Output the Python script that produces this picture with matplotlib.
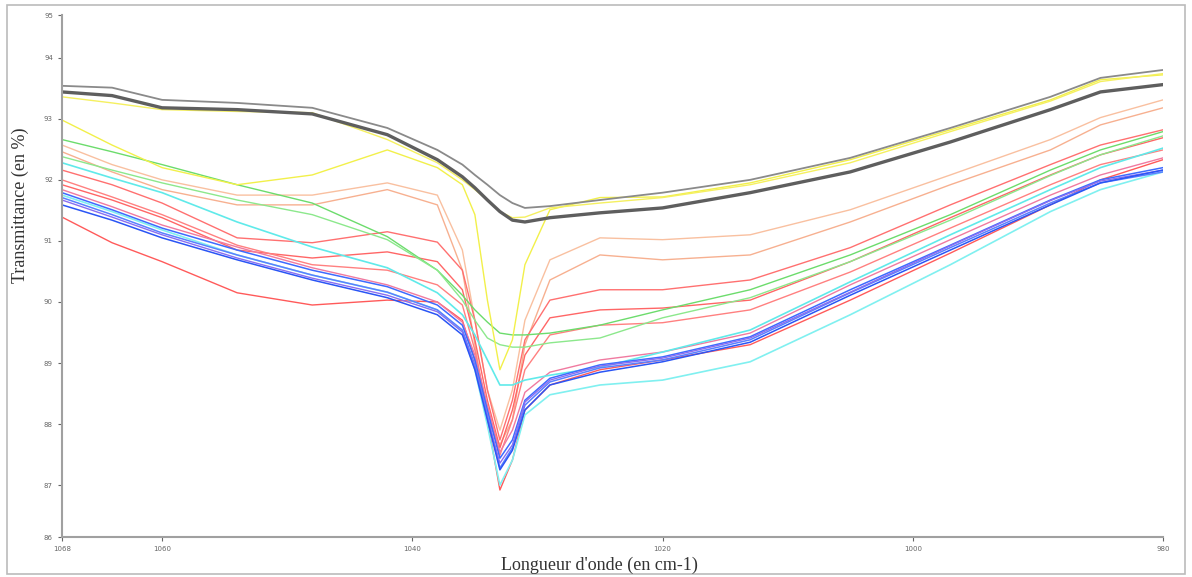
import numpy as np
import matplotlib
matplotlib.use('Agg')
import matplotlib.pyplot as plt
from matplotlib.patches import Rectangle

# wavenumbers (cm-1) where the spectra were read
wn = [1068, 1064, 1060, 1054, 1048, 1042, 1038, 1036, 1035, 1034, 1033,
      1032, 1031, 1029, 1025, 1020, 1013, 1005, 997, 989, 985, 980]

# transmittance (%) per spectrum
gray_a = [93.54, 93.51, 93.31, 93.26, 93.18, 92.85, 92.49, 92.25, 92.08, 91.92, 91.75,
          91.62, 91.54, 91.57, 91.67, 91.79, 92.00, 92.36, 92.85, 93.36, 93.67, 93.80]
gray_b = [93.44, 93.38, 93.18, 93.15, 93.08, 92.74, 92.33, 92.05, 91.87, 91.67, 91.48,
          91.34, 91.31, 91.38, 91.46, 91.54, 91.79, 92.13, 92.62, 93.15, 93.44, 93.56]
yellow_a = [93.36, 93.26, 93.15, 93.12, 93.10, 92.66, 92.28, 92.00, 91.84, 91.67, 91.48,
            91.38, 91.39, 91.54, 91.62, 91.71, 91.92, 92.28, 92.79, 93.29, 93.61, 93.74]
yellow_b = [92.98, 92.57, 92.20, 91.92, 92.08, 92.49, 92.20, 91.92, 91.43, 90.03, 88.89,
            89.38, 90.61, 91.51, 91.71, 91.72, 91.95, 92.33, 92.82, 93.31, 93.64, 93.72]
salmon_a = [92.57, 92.25, 92.00, 91.75, 91.75, 91.95, 91.75, 90.85, 89.70, 88.56, 87.90,
            88.56, 89.70, 90.69, 91.05, 91.02, 91.10, 91.51, 92.08, 92.66, 93.02, 93.31]
salmon_b = [92.46, 92.13, 91.84, 91.59, 91.59, 91.84, 91.59, 90.52, 89.30, 88.07, 87.66,
            88.07, 89.30, 90.36, 90.77, 90.69, 90.77, 91.31, 91.92, 92.49, 92.90, 93.18]
green_a = [92.66, 92.46, 92.25, 91.92, 91.62, 91.07, 90.52, 90.11, 89.87, 89.67, 89.49,
           89.46, 89.46, 89.49, 89.62, 89.87, 90.20, 90.77, 91.43, 92.16, 92.49, 92.79]
green_b = [92.38, 92.16, 91.95, 91.67, 91.43, 91.02, 90.52, 90.03, 89.70, 89.41, 89.30,
           89.26, 89.26, 89.33, 89.41, 89.74, 90.07, 90.66, 91.34, 92.07, 92.41, 92.72]
red_1 = [92.16, 91.92, 91.62, 91.05, 90.97, 91.15, 90.98, 90.52, 89.70, 88.56, 87.74,
         88.39, 89.38, 90.03, 90.20, 90.20, 90.36, 90.89, 91.59, 92.25, 92.57, 92.82]
red_2 = [91.92, 91.67, 91.38, 90.85, 90.72, 90.82, 90.66, 90.20, 89.38, 88.39, 87.61,
         88.23, 89.13, 89.74, 89.87, 89.90, 90.03, 90.66, 91.38, 92.08, 92.41, 92.69]
red_3 = [92.00, 91.72, 91.43, 90.93, 90.61, 90.52, 90.28, 89.95, 89.21, 88.23, 87.49,
         88.07, 88.89, 89.46, 89.62, 89.66, 89.87, 90.49, 91.21, 91.92, 92.25, 92.49]
red_4 = [91.39, 90.97, 90.66, 90.15, 89.95, 90.03, 90.00, 89.70, 89.05, 88.07, 86.92,
         87.41, 88.23, 88.64, 88.89, 89.05, 89.30, 90.03, 90.80, 91.59, 92.00, 92.33]
pink = [91.84, 91.56, 91.26, 90.90, 90.56, 90.28, 90.00, 89.67, 89.13, 88.31, 87.54,
        87.90, 88.52, 88.85, 89.05, 89.18, 89.49, 90.28, 91.02, 91.75, 92.08, 92.36]
cyan_a = [92.28, 92.03, 91.79, 91.31, 90.90, 90.56, 90.15, 89.79, 89.46, 89.05, 88.64,
          88.64, 88.72, 88.80, 88.93, 89.18, 89.54, 90.33, 91.10, 91.84, 92.20, 92.52]
cyan_b = [91.75, 91.48, 91.18, 90.77, 90.44, 90.16, 89.87, 89.51, 88.89, 87.98, 87.00,
          87.41, 88.15, 88.48, 88.64, 88.72, 89.02, 89.79, 90.61, 91.48, 91.84, 92.13]
blue_a = [91.79, 91.51, 91.21, 90.85, 90.52, 90.25, 89.95, 89.62, 89.05, 88.23, 87.44,
          87.74, 88.39, 88.75, 88.97, 89.10, 89.43, 90.20, 90.93, 91.67, 92.00, 92.20]
blue_b = [91.71, 91.43, 91.13, 90.77, 90.44, 90.16, 89.87, 89.54, 88.97, 88.15, 87.28,
          87.61, 88.31, 88.69, 88.92, 89.05, 89.38, 90.15, 90.89, 91.62, 91.95, 92.13]
purple = [91.67, 91.39, 91.10, 90.72, 90.39, 90.11, 89.84, 89.51, 88.92, 88.10, 87.36,
          87.66, 88.36, 88.72, 88.95, 89.08, 89.41, 90.16, 90.92, 91.66, 91.98, 92.16]
blue_c = [91.59, 91.34, 91.05, 90.69, 90.36, 90.07, 89.79, 89.46, 88.89, 88.07, 87.25,
          87.57, 88.23, 88.64, 88.85, 89.02, 89.34, 90.11, 90.85, 91.59, 91.95, 92.16]

xticks = [1068, 1060, 1040, 1020, 1000, 980]
yticks = [86.15, 87, 88, 89, 90, 91, 92, 93, 94, 94.7]
ytick_labels = ['86', '87', '88', '89', '90', '91', '92', '93', '94', '95']

fig = plt.figure(figsize=(11.92, 5.77), dpi=100)
ax = fig.add_axes([0.052, 0.0693, 0.9237, 0.9047])

# (series, colour, width) - light curves first, dark on top
curves = [
    (salmon_a, '#f9c0a0', 1.0), (salmon_b, '#f7b090', 1.0),
    (red_1, '#ff7070', 1.0), (red_2, '#ff6666', 1.0), (red_3, '#ff8080', 1.0),
    (red_4, '#ff5a5a', 1.0), (pink, '#f07aa0', 1.0),
    (green_a, '#6cdc6c', 1.0), (green_b, '#8ce88c', 1.0),
    (cyan_a, '#60eaea', 1.2), (cyan_b, '#80f0f0', 1.2),
    (blue_a, '#3d6bff', 1.1), (blue_b, '#5a80ff', 1.1), (purple, '#8a6ef0', 1.0),
    (blue_c, '#2a55f5', 1.1),
    (yellow_b, '#f2f04a', 1.0), (yellow_a, '#f5f060', 1.0),
    (gray_a, '#8a8a8a', 1.3), (gray_b, '#5e5e5e', 2.4),
]
for vals, col, lw in curves:
    ax.plot(wn, vals, color=col, linewidth=lw)

ax.set_xlim(1068, 980)
ax.set_ylim(86.15, 94.7)
ax.set_xticks(xticks)
ax.set_xticklabels([str(t) for t in xticks])
ax.set_yticks(yticks)
ax.set_yticklabels(ytick_labels)
ax.tick_params(labelsize=5, colors='#666666', length=3, width=0.8)

for s in ['top', 'right']:
    ax.spines[s].set_visible(False)
for s in ['left', 'bottom']:
    ax.spines[s].set_color('#a0a0a0')
    ax.spines[s].set_linewidth(1.5)

fig.text(0.017, 0.645, 'Transmittance (en %)', rotation=90, ha='center', va='center',
         fontsize=13, family='Liberation Serif', color='#333333')
fig.text(0.503, 0.02, "Longueur d'onde (en cm-1)", ha='center', va='center',
         fontsize=13, family='Liberation Serif', color='#333333')

fig.patches.append(Rectangle((0.006, 0.005), 0.988, 0.987, transform=fig.transFigure,
                             fill=False, edgecolor='#bbbbbb', linewidth=1.2))

fig.savefig('out.png', dpi=100)
